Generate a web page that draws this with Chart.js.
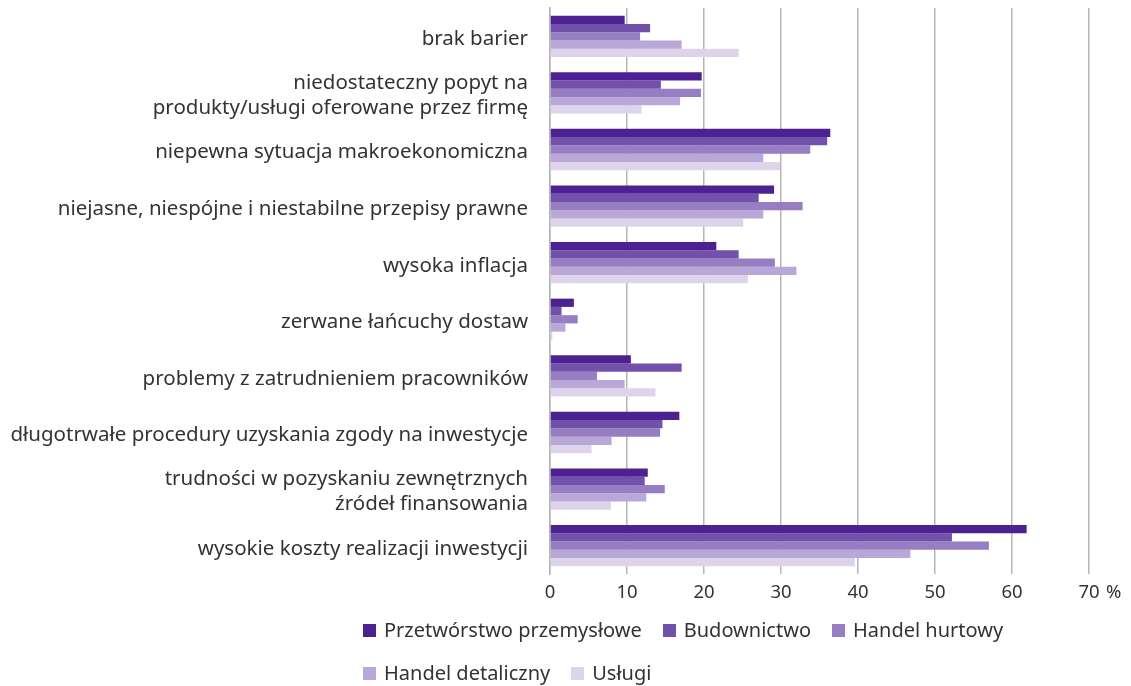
<!DOCTYPE html>
<html lang="pl">
<head>
<meta charset="UTF-8">
<title>Bariery inwestycyjne</title>
<script src="https://cdn.jsdelivr.net/npm/chart.js@4.4.0/dist/chart.umd.min.js"></script>
<style>
  body { margin: 0; background: #fff; font-family: "Noto Sans", sans-serif; }
  #wrap { position: relative; width: 1131px; height: 686px; }
  #legend { position: absolute; left: 363px; top: 616px; width: 720px; display: flex; flex-wrap: wrap; row-gap: 15px; column-gap: 21px; font-size: 20px; line-height: 28px; color: #333; }
  #legend span.item { display: flex; align-items: center; }
  #legend span.box { display: inline-block; width: 13px; height: 13px; margin-right: 8px; }
</style>
</head>
<body>
<div id="wrap">
  <canvas id="chart" width="1131" height="686"></canvas>
  <div id="legend"></div>
</div>
<script>
const categories = [
  'brak barier',
  ['niedostateczny popyt na', 'produkty/usługi oferowane przez firmę'],
  'niepewna sytuacja makroekonomiczna',
  'niejasne, niespójne i niestabilne przepisy prawne',
  'wysoka inflacja',
  'zerwane łańcuchy dostaw',
  'problemy z zatrudnieniem pracowników',
  'długotrwałe procedury uzyskania zgody na inwestycje',
  ['trudności w pozyskaniu zewnętrznych', 'źródeł finansowania'],
  'wysokie koszty realizacji inwestycji'
];
const seriesNames = ['Przetwórstwo przemysłowe', 'Budownictwo', 'Handel hurtowy', 'Handel detaliczny', 'Usługi'];
const przetworstwo     = [9.7, 19.7, 36.4, 29.1, 21.6, 3.1, 10.5, 16.8, 12.7, 61.9];
const budownictwo      = [13.0, 14.4, 36.0, 27.1, 24.5, 1.5, 17.1, 14.6, 12.3, 52.2];
const handelHurtowy    = [11.7, 19.6, 33.8, 32.8, 29.2, 3.6, 6.1, 14.3, 14.9, 57.0];
const handelDetaliczny = [17.1, 16.9, 27.7, 27.7, 32.0, 2.0, 9.7, 8.0, 12.5, 46.8];
const uslugi           = [24.5, 11.9, 29.9, 25.1, 25.7, 0.3, 13.7, 5.4, 7.9, 39.6];
const xTicks = [0, 10, 20, 30, 40, 50, 60, 70];
const colors = ['#4e2193', '#7251ab', '#977dc2', '#b9a7d7', '#ddd4eb'];

const values = [przetworstwo, budownictwo, handelHurtowy, handelDetaliczny, uslugi];
const datasets = seriesNames.map((name, i) => ({
  label: name,
  data: values[i],
  backgroundColor: colors[i],
  borderWidth: 0,
  barPercentage: 1.0,
  categoryPercentage: 0.73
}));

// "%" after the last tick label
const percentSign = {
  id: 'percentSign',
  afterDraw(chart) {
    const x = chart.scales.x;
    const ctx = chart.ctx;
    ctx.save();
    ctx.font = '18.5px "Noto Sans"';
    ctx.fillStyle = '#333';
    ctx.textBaseline = 'middle';
    ctx.textAlign = 'left';
    ctx.fillText('%', x.getPixelForValue(70) + 17, 593);
    ctx.restore();
  }
};

const ctx = document.getElementById('chart').getContext('2d');
new Chart(ctx, {
  type: 'bar',
  data: { labels: categories, datasets: datasets },
  options: {
    indexAxis: 'y',
    responsive: false,
    animation: false,
    layout: { padding: { top: 8, right: 42, bottom: 82, left: 0 } },
    plugins: { legend: { display: false }, tooltip: { enabled: false } },
    scales: {
      x: {
        min: 0,
        max: 70,
        afterBuildTicks: s => { s.ticks = xTicks.map(v => ({ value: v })); },
        afterFit: s => { s.height = 30; },
        grid: { color: '#b5b5b5', lineWidth: 1.5, drawTicks: false },
        border: { display: false },
        ticks: { color: '#333', padding: 8, font: { family: 'Noto Sans', size: 18.5 } }
      },
      y: {
        afterFit: s => { s.width = 550; s.paddingTop = 0; s.paddingBottom = 0; },
        grid: { display: false },
        border: { color: '#b5b5b5', width: 1.5 },
        ticks: { color: '#333', padding: 14, labelOffset: 3, font: { family: 'Noto Sans', size: 20.5, lineHeight: 1.22 } }
      }
    }
  },
  plugins: [percentSign]
});

const legend = document.getElementById('legend');
seriesNames.forEach((name, i) => {
  const item = document.createElement('span');
  item.className = 'item';
  item.innerHTML = '<span class="box" style="background:' + colors[i] + '"></span>' + name;
  legend.appendChild(item);
});
</script>
</body>
</html>
